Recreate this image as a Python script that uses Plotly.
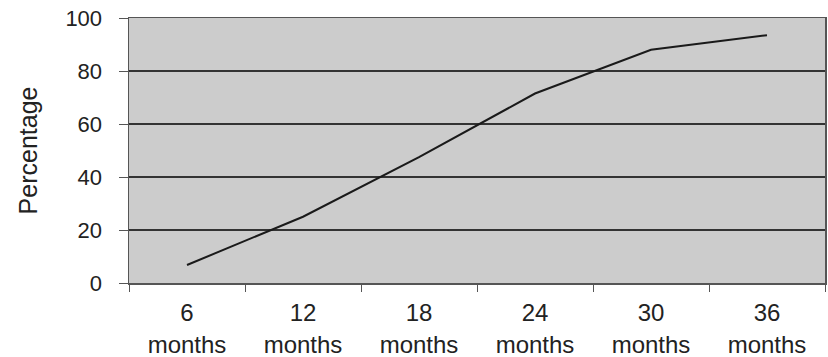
import plotly.graph_objects as go

categories = ["6<br>months", "12<br>months", "18<br>months", "24<br>months", "30<br>months", "36<br>months"]
percentages = [6.8, 25, 47.5, 71.5, 88, 93.5]
y_ticks = [0, 20, 40, 60, 80, 100]

fig = go.Figure()
fig.add_trace(go.Scatter(
    x=categories, y=percentages, mode="lines",
    line=dict(color="#1a1a1a", width=2),
    showlegend=False, hoverinfo="skip",
))

font_family = "Liberation Sans, Arial, sans-serif"
fig.update_layout(
    width=828, height=357,
    margin=dict(l=129, r=3, t=18, b=74, autoexpand=False),
    paper_bgcolor="white",
    plot_bgcolor="#cccccc",
    font=dict(family=font_family, color="#222222"),
    xaxis=dict(
        type="category",
        tickson="boundaries",
        ticks="outside", ticklen=7, tickcolor="#555555",
        showline=True, linecolor="#555555", linewidth=1.5,
        mirror=True,
        showgrid=False,
        automargin=False,
        tickfont=dict(size=24, color="#222222"),
        ticklabelstandoff=8,
        range=[-0.5, 5.5],
    ),
    yaxis=dict(
        range=[0, 100],
        tickvals=y_ticks,
        ticks="outside", ticklen=9, tickcolor="#555555",
        showline=True, linecolor="#555555", linewidth=1.5,
        mirror=True,
        showgrid=True, gridcolor="#333333", gridwidth=1.5,
        zeroline=False,
        automargin=False,
        tickfont=dict(size=22, color="#222222"),
        ticklabelstandoff=12,
        title=dict(text="Percentage", font=dict(size=25, color="#222222"), standoff=20),
    ),
)

fig.write_html(
    "out.html",
    config={"displayModeBar": False, "staticPlot": True},
    post_script="document.body.style.margin='0';document.body.style.overflow='hidden';",
)
